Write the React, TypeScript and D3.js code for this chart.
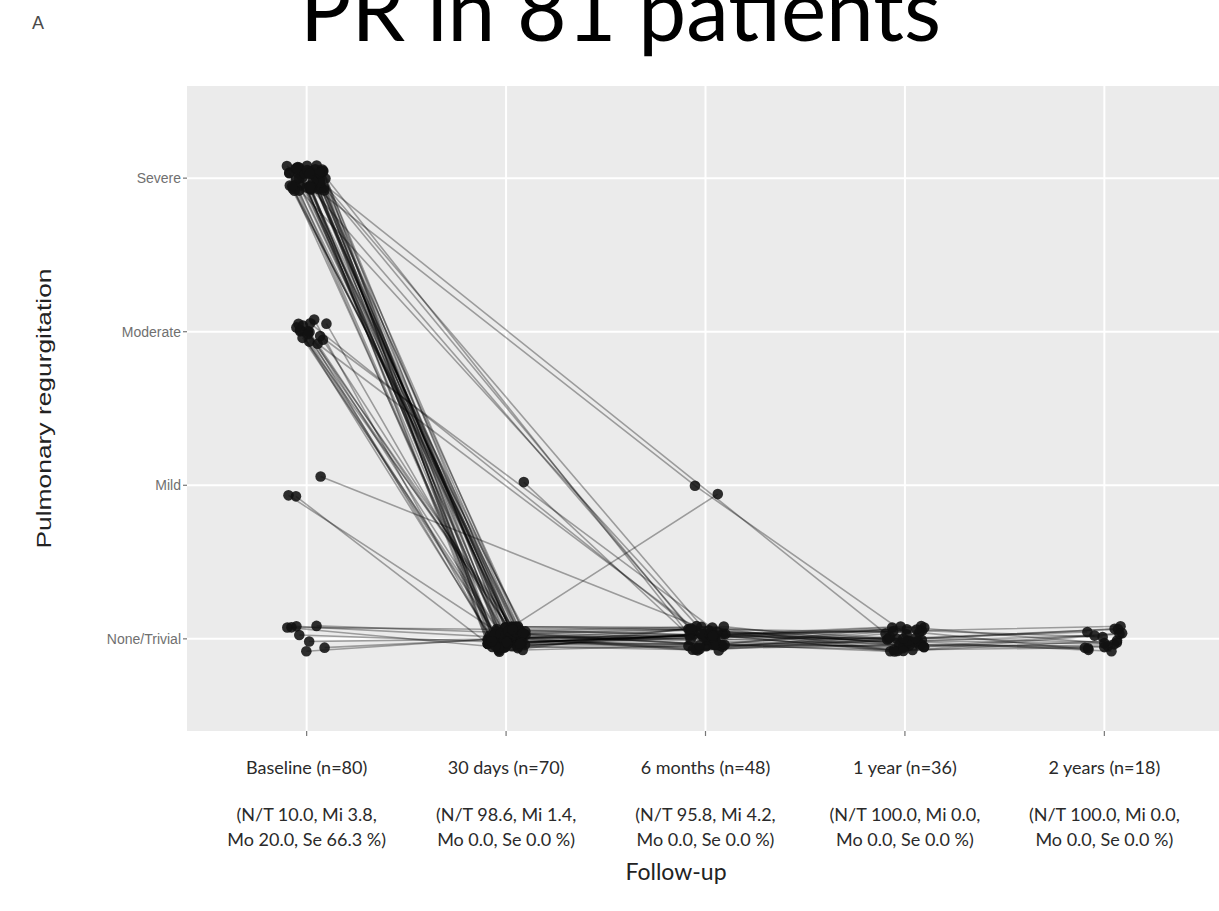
import React from "react";
import * as d3 from "d3";

// ---- data ----
const TIMEPOINTS = ["Baseline", "30 days", "6 months", "1 year", "2 years"];
const LEVELS = ["None/Trivial", "Mild", "Moderate", "Severe"];
const CODE: Record<string, string> = { N: "None/Trivial", m: "Mild", M: "Moderate", S: "Severe" };

const X_LABEL_LINE1 = ["Baseline (n=80)", "30 days (n=70)", "6 months (n=48)", "1 year (n=36)", "2 years (n=18)"];
const X_LABEL_LINE2 = ["(N/T 10.0, Mi 3.8,", "(N/T 98.6, Mi 1.4,", "(N/T 95.8, Mi 4.2,", "(N/T 100.0, Mi 0.0,", "(N/T 100.0, Mi 0.0,"];
const X_LABEL_LINE3 = ["Mo 20.0, Se 66.3 %)", "Mo 0.0, Se 0.0 %)", "Mo 0.0, Se 0.0 %)", "Mo 0.0, Se 0.0 %)", "Mo 0.0, Se 0.0 %)"];

// one string per patient: grade at Baseline, 30 days, 6 months, 1 year, 2 years ("." = not assessed)
const PATIENTS = [
  "SN...", "SNNNN", "MN...", "SNNN.", "S.N..", "NNNNN", "SN...", "MNNNN",
  "SNNN.", "SN...", "SNN..", "S.NN.", "SN...", "MNNN.", "SNNNN", "mN...",
  "SN...", "S.mN.", "SNNN.", "M.N..", "SN...", "NNNN.", "SNNNN", "SN...",
  "SNm..", "MN...", "SNN.N", "SN...", "S..N.", "SNNN.", "NNN.N", "SN...",
  "MNN..", "SNNNN", "SN...", "S.N..", "SNN..", "MN.N.", "SN...", "SNNN.",
  "m.N..", "SNNNN", "SN...", "MNNNN", "SN.N.", "SN...", "NNNNN", "SNNN.",
  "MN...", "SN...", "SNN..", "S.NN.", "SN...", "M.N..", "SNNNN", "SN...",
  "NNNN.", "SNNN.", "MN...", "SN...", "SN.NN", "SNNN.", "mNNN.", "SN...",
  "MNNN.", "SNNNN", "S.N..", "SN...", "NNN..", "SNN..", "MN...", "SN...",
  "SNNN.", "M.N..", ".mN..", "SNNNN", "NN.NN", "MNNNN", "SN...", "NNNNN",
  "MN...",
];

// ---- layout ----
const W = 1219;
const H = 911;
const PANEL = { left: 187, right: 1224, top: 86, bottom: 731 };

const hash = (a: number) => {
  const s = Math.sin(a * 12.9898 + 78.233) * 43758.5453;
  return s - Math.floor(s);
};

export default function App() {
  const x = d3.scalePoint<string>().domain(TIMEPOINTS).range([PANEL.left, PANEL.right]).padding(0.6);
  const y = d3.scalePoint<string>().domain(LEVELS).range([PANEL.bottom, PANEL.top]).padding(0.6);
  const sx = x.step();
  const sy = y.step();

  const series = PATIENTS.map((p, i) => {
    const pts: [number, number][] = [];
    p.split("").forEach((c, t) => {
      if (c === ".") return;
      const jx = (hash(i * 7 + t * 131 + 0.37) * 2 - 1) * 0.1 * sx;
      const jy = (hash(i * 11 + t * 97 + 503.1) * 2 - 1) * 0.085 * sy;
      pts.push([(x(TIMEPOINTS[t]) as number) + jx, (y(CODE[c]) as number) + jy]);
    });
    return pts;
  });

  const line = d3.line<[number, number]>().x((d) => d[0]).y((d) => d[1]);
  const yMid = (PANEL.top + PANEL.bottom) / 2;
  const calibri = "Lato, 'Open Sans', sans-serif";
  const arial = "'Liberation Sans', Arial, sans-serif";

  return (
    <svg width={W} height={H} style={{ position: "absolute", left: 0, top: 0, background: "#fff" }}>
      <defs>
        <clipPath id="clipAll">
          <rect x={0} y={0} width={W} height={H} />
        </clipPath>
      </defs>
      {/* title (partially cut off at top) */}
      <text x={300} y={41} fontFamily={calibri} fontSize={88} fill="#000"
        textLength={641} lengthAdjust="spacingAndGlyphs">PR in 81 patients</text>
      <text x={32} y={29} fontFamily={arial} fontSize={18} fill="#4a4a4a">A</text>

      {/* panel */}
      <g clipPath="url(#clipAll)">
        <rect x={PANEL.left} y={PANEL.top} width={PANEL.right - PANEL.left} height={PANEL.bottom - PANEL.top} fill="#ebebeb" />
        {LEVELS.map((l) => (
          <line key={l} x1={PANEL.left} x2={PANEL.right} y1={y(l)} y2={y(l)} stroke="#fff" strokeWidth={2} />
        ))}
        {TIMEPOINTS.map((t) => (
          <line key={t} x1={x(t)} x2={x(t)} y1={PANEL.top} y2={PANEL.bottom} stroke="#fff" strokeWidth={2} />
        ))}
        {series.map((pts, i) =>
          pts.length > 1 ? (
            <path key={"l" + i} d={line(pts) || ""} fill="none" stroke="#000" strokeOpacity={0.34} strokeWidth={1.6} />
          ) : null
        )}
        {series.map((pts, i) =>
          pts.map((d, k) => <circle key={"p" + i + "-" + k} cx={d[0]} cy={d[1]} r={5.3} fill="#111" fillOpacity={0.88} />)
        )}
      </g>

      {/* y axis */}
      {LEVELS.map((l) => (
        <g key={"ya" + l}>
          <line x1={PANEL.left - 4} x2={PANEL.left} y1={y(l)} y2={y(l)} stroke="#777" strokeWidth={1.2} />
          <text x={PANEL.left - 6} y={(y(l) as number) + 5} textAnchor="end"
            fontFamily={arial} fontSize={14} fill="#707070">{l}</text>
        </g>
      ))}
      <text transform={`translate(51,${yMid}) rotate(-90)`} textAnchor="middle"
        fontFamily={arial} fontSize={20} fill="#222" textLength={280} lengthAdjust="spacingAndGlyphs">Pulmonary regurgitation</text>

      {/* x axis */}
      {TIMEPOINTS.map((t, i) => (
        <g key={"xa" + t}>
          <line x1={x(t)} x2={x(t)} y1={PANEL.bottom} y2={PANEL.bottom + 5} stroke="#777" strokeWidth={1.2} />
          <text x={x(t)} y={774} textAnchor="middle" fontFamily={calibri} fontSize={18} fill="#2a2a2a">{X_LABEL_LINE1[i]}</text>
          <text x={x(t)} y={821} textAnchor="middle" fontFamily={calibri} fontSize={18} fill="#2a2a2a">{X_LABEL_LINE2[i]}</text>
          <text x={x(t)} y={846} textAnchor="middle" fontFamily={calibri} fontSize={18} fill="#2a2a2a">{X_LABEL_LINE3[i]}</text>
        </g>
      ))}
      <text x={676} y={880} textAnchor="middle" fontFamily={calibri} fontSize={23} fill="#222">Follow-up</text>
    </svg>
  );
}
